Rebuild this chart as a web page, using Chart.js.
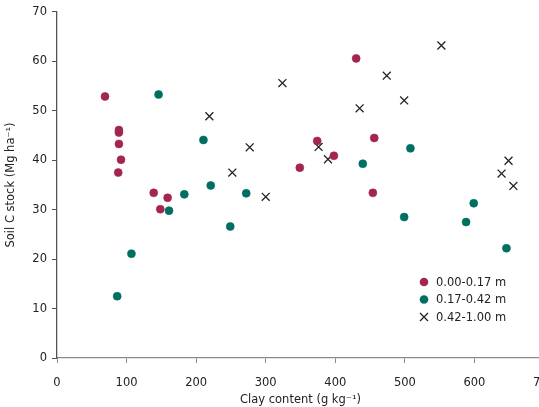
<!DOCTYPE html>
<html>
<head>
<meta charset="utf-8">
<script src="https://cdn.jsdelivr.net/npm/chart.js@4"></script>
<style>
  html, body { margin: 0; padding: 0; background: #fff; overflow: hidden; width: 539px; height: 407px; }
  #wrap { width: 580px; height: 407px; }
</style>
</head>
<body>
<div id="wrap"><canvas id="js-chart-soilc" width="580" height="407"></canvas></div>
<script>
// Soil C stock vs clay content, three depth layers
const depthLabels = ['0.00-0.17 m', '0.17-0.42 m', '0.42-1.00 m'];

const clayTop = [69, 89, 89, 89, 92, 88, 139, 159, 148.5, 430, 374, 398, 349, 456, 454];
const stockTop = [52.9, 46.1, 45.6, 43.3, 40.1, 37.5, 33.4, 32.4, 30.1, 60.6, 43.9, 40.9, 38.5, 44.5, 33.4];

const clayMid = [146, 210.5, 221, 183, 272, 161, 249, 107, 86.5, 508, 439.5, 499, 588, 599, 646];
const stockMid = [53.3, 44.1, 34.9, 33.1, 33.3, 29.8, 26.6, 21.1, 12.5, 42.4, 39.3, 28.5, 27.5, 31.3, 22.2];

const clayDeep = [219, 277, 252, 300, 324, 552.5, 474, 435, 499, 376, 389.5, 649, 639, 656];
const stockDeep = [48.9, 42.6, 37.5, 32.6, 55.6, 63.2, 57.1, 50.5, 52.1, 42.7, 40.2, 39.9, 37.3, 34.8];

const xTicks = [0, 100, 200, 300, 400, 500, 600, 700];
const yTicks = [0, 10, 20, 30, 40, 50, 60, 70];

const colTop = '#a3264f';
const colMid = '#006f62';
const colDeep = '#222222';

function toPoints(xs, ys) {
  return xs.map((x, i) => ({ x: x, y: ys[i] }));
}

// legend drawn inside the plot, lower right
const insideLegend = {
  id: 'insideLegend',
  afterDraw(chart) {
    const ctx = chart.ctx;
    const x0 = 424, y0 = 282, rowH = 17.5;
    ctx.save();
    ctx.font = '11.5px "DejaVu Sans"';
    ctx.textBaseline = 'middle';
    chart.data.datasets.forEach((ds, i) => {
      const y = y0 + i * rowH;
      if (ds.pointStyle === 'crossRot') {
        ctx.strokeStyle = ds.borderColor;
        ctx.lineWidth = 1.3;
        ctx.beginPath();
        ctx.moveTo(x0 - 4, y - 4); ctx.lineTo(x0 + 4, y + 4);
        ctx.moveTo(x0 + 4, y - 4); ctx.lineTo(x0 - 4, y + 4);
        ctx.stroke();
      } else {
        ctx.fillStyle = ds.backgroundColor;
        ctx.beginPath();
        ctx.arc(x0, y, 4.3, 0, Math.PI * 2);
        ctx.fill();
      }
      ctx.fillStyle = '#222';
      ctx.fillText(ds.label, x0 + 12, y + 1);
    });
    ctx.restore();
  }
};

Chart.defaults.font.family = '"DejaVu Sans", sans-serif';
Chart.defaults.font.size = 11.5;
Chart.defaults.color = '#222';

new Chart(document.getElementById('js-chart-soilc'), {
  type: 'scatter',
  data: {
    datasets: [
      {
        label: depthLabels[0],
        data: toPoints(clayTop, stockTop),
        backgroundColor: colTop,
        borderColor: colTop,
        pointRadius: 4,
        borderWidth: 0.6
      },
      {
        label: depthLabels[1],
        data: toPoints(clayMid, stockMid),
        backgroundColor: colMid,
        borderColor: colMid,
        pointRadius: 4,
        borderWidth: 0.6
      },
      {
        label: depthLabels[2],
        data: toPoints(clayDeep, stockDeep),
        pointStyle: 'crossRot',
        backgroundColor: colDeep,
        borderColor: colDeep,
        pointRadius: 5.6,
        borderWidth: 1.3
      }
    ]
  },
  options: {
    responsive: false,
    animation: false,
    devicePixelRatio: 1,
    layout: { padding: { top: 8, right: 36, left: 0, bottom: 0 } },
    plugins: {
      legend: { display: false },
      tooltip: { enabled: false }
    },
    scales: {
      x: {
        type: 'linear',
        min: 0,
        max: 700,
        afterBuildTicks: (s) => { s.ticks = xTicks.map(v => ({ value: v })); },
        afterFit: (s) => { s.height = 49; },
        grid: { display: true, drawOnChartArea: false, drawTicks: true, tickLength: 5, color: '#8a8a8a' },
        border: { display: true, color: '#8a8a8a', width: 1.3 },
        ticks: { padding: 13, color: '#222' },
        title: {
          display: true,
          text: 'Clay content (g kg\u207B\u00B9)',
          color: '#222',
          padding: { top: 4, bottom: 0 }
        }
      },
      y: {
        type: 'linear',
        min: 0,
        max: 70,
        afterBuildTicks: (s) => { s.ticks = yTicks.map(v => ({ value: v })); },
        afterFit: (s) => { s.width = 57; },
        grid: { display: true, drawOnChartArea: false, drawTicks: true, tickLength: 5, color: '#555' },
        border: { display: true, color: '#555', width: 1.3 },
        ticks: { padding: 5, color: '#222' },
        title: {
          display: true,
          text: 'Soil C stock (Mg ha\u207B\u00B9)',
          color: '#222',
          padding: { top: 4, bottom: 4 }
        }
      }
    }
  },
  plugins: [insideLegend]
});
</script>
</body>
</html>
